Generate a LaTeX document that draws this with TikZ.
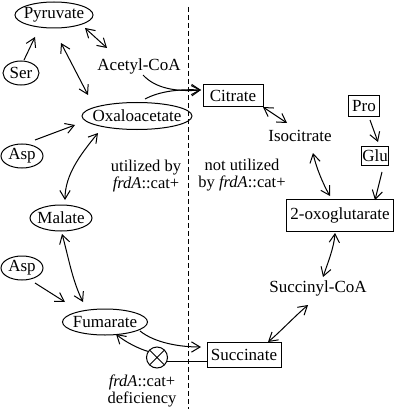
\documentclass[tikz,border=0pt]{standalone}
\usepackage{fontspec}
\setmainfont{Liberation Serif}
\usetikzlibrary{shapes.geometric,arrows.meta}
\begin{document}
\begin{tikzpicture}[x=1pt,y=-1pt,
  every node/.style={font=\fontsize{17}{18}\selectfont, inner sep=0pt, outer sep=0pt},
  ell/.style={draw, ellipse, line width=1pt},
  box/.style={draw, rectangle, line width=1pt},
  lbl/.style={font=\fontsize{16.5}{17}\selectfont, align=center},
  tip/.tip={Straight Barb[angle=62:10pt, line width=1pt]},
  arr/.style={-tip, line width=1pt},
  darr/.style={tip-tip, line width=1pt},
  plain/.style={line width=1pt},
  divider/.style={dashed, dash pattern=on 5pt off 3pt, line width=0.9pt}
]
\useasboundingbox (0,0) rectangle (400,409);

% nodes
\node[ell, minimum width=78pt, minimum height=26pt] (pyr) at (54,15) {\makebox[0pt]{Pyruvate}};
\node[ell, minimum width=36pt, minimum height=24pt] (ser) at (21,73) {\makebox[0pt]{Ser}};
\node (acoa) at (139,66) {Acetyl-CoA};
\node[ell, minimum width=110pt, minimum height=27pt] (oxa) at (137,116) {\makebox[0pt]{Oxaloacetate}};
\node[ell, minimum width=42pt, minimum height=24pt] (asp1) at (22,156) {\makebox[0pt]{Asp}};
\node[ell, minimum width=62pt, minimum height=26pt] (mal) at (61,218) {\makebox[0pt]{Malate}};
\node[ell, minimum width=42pt, minimum height=24pt] (asp2) at (22,268) {\makebox[0pt]{Asp}};
\node[ell, minimum width=85pt, minimum height=26pt] (fum) at (105,322) {\makebox[0pt]{Fumarate}};
\node[draw, circle, minimum size=21pt, line width=1pt] (blk) at (157,357.5) {};
\draw[plain] (blk.45) -- (blk.225) (blk.135) -- (blk.315);

\node[box, minimum width=60pt, minimum height=22pt] (cit) at (233,96) {Citrate};
\node[box, minimum width=31pt, minimum height=21pt] (pro) at (364,106) {Pro};
\node (iso) at (300,136) {Isocitrate};
\node[box, minimum width=27pt, minimum height=19pt] (glu) at (375,156) {Glu};
\node[box, minimum width=107pt, minimum height=32pt] (oxo) at (340,215) {2-oxoglutarate};
\node (sca) at (318,288) {Succinyl-CoA};
\node[box, minimum width=74pt, minimum height=25pt] (suc) at (244,355) {Succinate};

\node[lbl] (lab1) at (146,176) {utilized by\\\textit{frdA}::cat+};
\node[lbl] (lab2) at (242,175) {not utilized\\by \textit{frdA}::cat+};
\node[lbl] (lab3) at (142,391) {\textit{frdA}::cat+\\deficiency};

% divider
\coordinate (dtop) at (188,7);
\coordinate (dbot) at (188,409);
\draw[divider] (dtop) -- (dbot);

% connectors
\draw[arr] ([shift={(3,-13)}]ser.center) -- ([shift={(-19,22)}]pyr.center);
\draw[darr] ([shift={(31,13)}]pyr.center) -- ([shift={(-32,-18)}]acoa.center);
\draw[darr] ([shift={(7,28)}]pyr.center) -- ([shift={(-49,-21)}]oxa.center);
\draw[arr] ([shift={(4,9)}]acoa.center) .. controls +(12,13) and +(-26,2) .. ([shift={(-32,-6)}]cit.center);
\draw[arr] ([shift={(8,-17)}]oxa.center) .. controls +(15,-8) and +(-21,-1) .. ([shift={(-32,-6)}]cit.center);
\draw[arr] ([shift={(13,-16)}]asp1.center) -- ([shift={(-62,9)}]oxa.center);
\draw[darr] ([shift={(-39,17)}]oxa.center) .. controls +(-18,22) and +(0,-25) .. ([shift={(4,-18)}]mal.center);
\draw[darr] ([shift={(1,16)}]mal.center) .. controls +(6,21) and +(-11,-22) .. ([shift={(-22,-20)}]fum.center);
\draw[arr] ([shift={(13,15)}]asp2.center) -- ([shift={(-40,-20)}]fum.center);
\draw[arr] ([shift={(35,9)}]fum.center) .. controls +(15,12) and +(-21,0) .. ([shift={(-43,-8)}]suc.center);
\draw[plain] ([shift={(-37,6)}]suc.center) -- ([shift={(10,3.5)}]blk.center);
\draw[arr] (blk.145) .. controls +(-8,-2) and +(9,8) .. ([shift={(11,12)}]fum.center);
\draw[darr] ([shift={(30,11)}]cit.center) -- ([shift={(-13,-13)}]iso.center);
\draw[arr] ([shift={(6,14)}]pro.center) -- ([shift={(3,-14)}]glu.center);
\draw[darr] ([shift={(13,17)}]iso.center) .. controls +(3,14) and +(-7,-12) .. ([shift={(-10,-19)}]oxo.center);
\draw[arr] ([shift={(7,16)}]glu.center) -- ([shift={(35,-15)}]oxo.center);
\draw[darr] ([shift={(-5,18)}]oxo.center) .. controls +(-1,15) and +(4,-12) .. ([shift={(5,-11)}]sca.center);
\draw[darr] ([shift={(-10,17)}]sca.center) .. controls +(-14,12) and +(12,-10) .. ([shift={(24,-13)}]suc.center);
\end{tikzpicture}
\end{document}
